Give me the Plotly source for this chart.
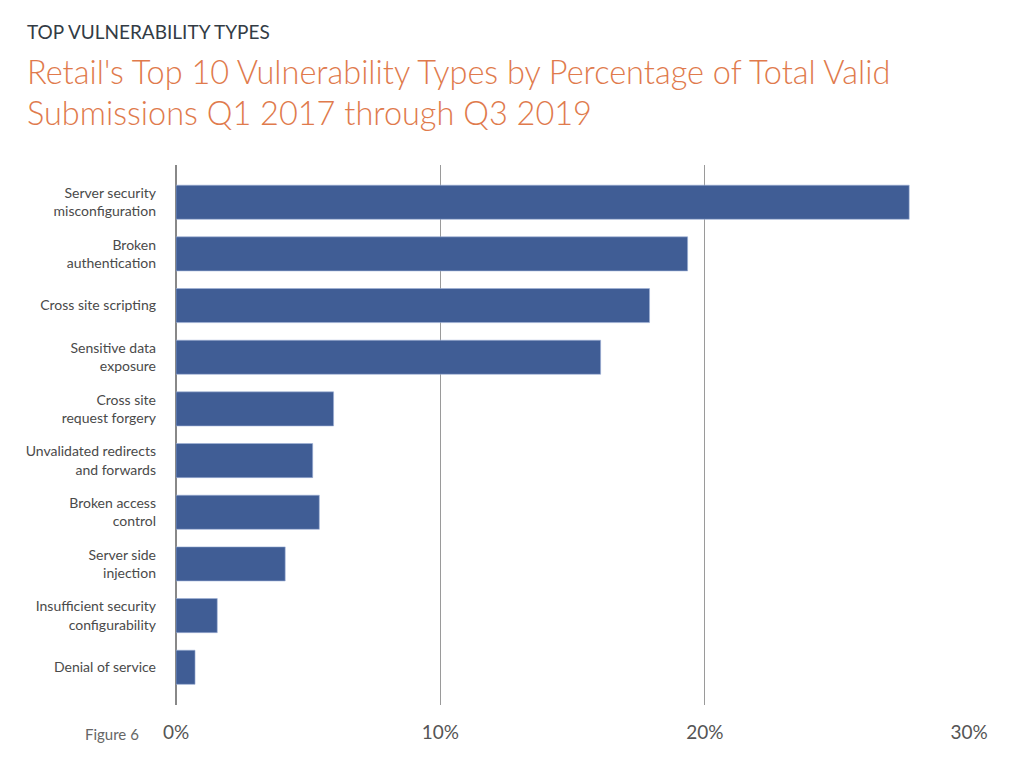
import plotly.graph_objects as go

categories = [
    "Server security<br>misconfiguration",
    "Broken<br>authentication",
    "Cross site scripting",
    "Sensitive data<br>exposure",
    "Cross site<br>request forgery",
    "Unvalidated redirects<br>and forwards",
    "Broken access<br>control",
    "Server side<br>injection",
    "Insufficient security<br>configurability",
    "Denial of service",
]
values = [27.73, 19.35, 17.91, 16.06, 5.96, 5.17, 5.42, 4.13, 1.56, 0.72]
tick_vals = [0, 10, 20, 30]
tick_text = ["0%", "10%", "20%", "30%"]

FONT = "Lato"

fig = go.Figure()
fig.add_trace(go.Bar(
    x=values,
    y=categories,
    orientation="h",
    marker=dict(color="#405d95", line=dict(color="#9fb2d6", width=0.6)),
    hoverinfo="x+y",
))

OFF = 8  # page body offset
W, H = 1024, 770
L = 176 - OFF
T = 165 - OFF
B = H - (705 - OFF)
pw = (969 - 176) * 30.03 / 30
R = W - L - pw
ph = H - T - B

def px(x):
    return (x - OFF - L) / pw

def py(y):
    return (H - B - (y - OFF)) / ph

fig.update_layout(
    width=W, height=H,
    margin=dict(l=L, r=R, t=T, b=B, pad=0),
    paper_bgcolor="white",
    plot_bgcolor="white",
    bargap=0.34,
    showlegend=False,
    font=dict(family=FONT, color="#444"),
    xaxis=dict(
        range=[0, 30.03],
        tickvals=tick_vals,
        ticktext=tick_text,
        showgrid=True,
        gridcolor="#9a9a9a",
        gridwidth=1,
        zeroline=True,
        zerolinecolor="#888888",
        zerolinewidth=1.5,
        showline=False,
        ticks="",
        tickfont=dict(family=FONT, size=19, color="#555"),
        ticklabelstandoff=14,
        fixedrange=True,
    ),
    yaxis=dict(
        type="category",
        range=[9.73, -0.72],
        showgrid=False,
        zeroline=False,
        showline=False,
        ticks="",
        tickfont=dict(family=FONT, size=14, color="#4a4a4a"),
        ticklabelstandoff=19,
        fixedrange=True,
    ),
    annotations=[
        dict(text="TOP VULNERABILITY TYPES", xref="paper", yref="paper",
             x=px(25), y=py(31.5), xanchor="left", yanchor="middle",
             showarrow=False, font=dict(family=FONT, size=19, color="#333c45")),
        dict(text="Retail's Top 10 Vulnerability Types by Percentage of Total Valid",
             xref="paper", yref="paper", x=px(25), y=py(72),
             xanchor="left", yanchor="middle", showarrow=False,
             font=dict(family=FONT, size=32.5, color="#e07a4c", weight=300)),
        dict(text="Submissions Q1 2017 through Q3 2019",
             xref="paper", yref="paper", x=px(25), y=py(113),
             xanchor="left", yanchor="middle", showarrow=False,
             font=dict(family=FONT, size=32.5, color="#e07a4c", weight=300)),
        dict(text="Figure 6", xref="paper", yref="paper",
             x=px(141), y=py(734), xanchor="right", yanchor="middle",
             showarrow=False, font=dict(family=FONT, size=15, color="#666")),
    ],
)

fig.write_html("out.html")
